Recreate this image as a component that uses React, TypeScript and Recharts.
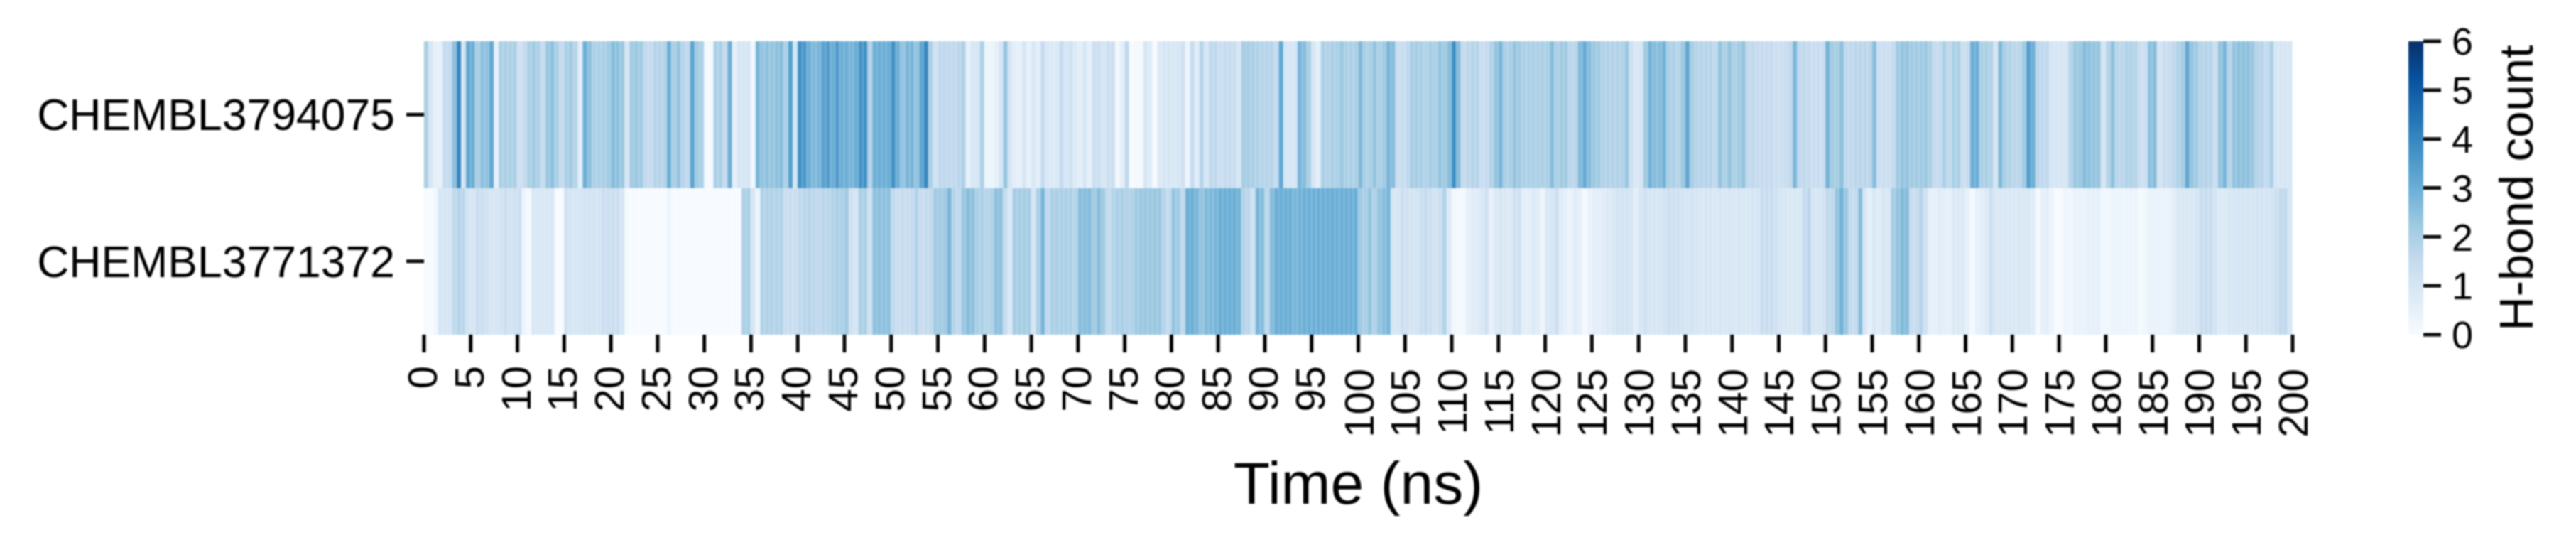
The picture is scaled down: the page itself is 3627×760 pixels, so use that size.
import { BarChart, Bar, Cell, XAxis, YAxis, Label } from "recharts";

const FONT = "'Liberation Sans', Arial, sans-serif";

const moleculeLabels = ["CHEMBL3771372", "CHEMBL3794075"];
const timeTicks = [
  0, 5, 10, 15, 20, 25, 30, 35, 40, 45, 50, 55, 60, 65, 70, 75, 80, 85, 90, 95, 100,
  105, 110, 115, 120, 125, 130, 135, 140, 145, 150, 155, 160, 165, 170, 175, 180, 185, 190, 195, 200,
];
const countTicks = [0, 1, 2, 3, 4, 5, 6];

// H-bond count per 0.5 ns, one line per 10 ns
const upperCounts = [
  2, 1, .5, .5, 1.5, 1.5, 2.5, 4, 1, 3.2, 3, 2, 2.5, 2.5, 3.2, .5, 2, 2, 2, 2,
  1.2, 1.5, 2, 2.2, 2, 1.5, 2.3, 2.5, 2, 1.5, 2, 2.2, 1.8, .6, 3, 2.5, 2, 2, 2, 2.2,
  2.6, 2.5, 2.3, 1, 2.2, 2.3, 2.2, 1.6, 1.5, 1.8, 1.8, 1.8, 3, 2, 2.4, 1.8, 1.6, 3.3, 2.2, 2,
  .1, .1, 2, 2, 1.5, 3, .5, 1, 1, 1, .2, 2.8, 2.4, 2.5, 2.4, 2.5, 2.6, 2, 3.4, 1,
  3.8, 3.6, 3, 2.7, 2.8, 3.3, 3.5, 3, 3.5, 3, 3, 2.8, 3, 3.7, 3.8, 1.8, 3, 3, 3, 3,
  3.8, 3, 2.4, 2.8, 2.8, 2.4, 3.2, 4, 2, 1.2, 1.6, 1.6, 1.6, 1.6, 1.7, 2, .5, 1, 1, 2,
  .3, .3, .5, 1, 2.4, 1, .6, .5, 1, .5, .9, .6, 1.5, .9, .8, .8, 1.5, 1, 1.2, .8,
  .6, 1, .5, 1.3, 1.3, 1, 1.3, 1.3, .2, .6, 1.6, 0, .1, .1, 1, .7, 0, .8, 1, 1,
  .9, 1, 1.2, .3, 1.5, .7, 1.8, 1, 1.6, 1.6, 1.3, 1.5, 1.5, 1.4, 1, 2.1, 2.1, 2, 1.9, 1.8,
  1.8, 1.8, 1.5, 3.2, 1, 1, 1, 2.8, 2.6, 2, 1, .6, 2, 1.9, 2, 2, 2.3, 2, 2, 2,
  2.7, 2, 2, 2.4, 2, 2.2, 2.8, 2.6, 1.4, 1.4, 1.6, 2.1, 2.1, 2, 1.9, 2.1, 2, 2.4, 2.2, 2.6,
  3.8, 2.6, 1.5, 1.7, 1.8, 1.8, 1.4, 1.5, 1.9, 2.4, 2.8, 2, 2, 2.4, 2.2, 2, 2, 2, 2, 2,
  2, 2.6, 2, 2.2, 2.2, 1.7, 1.7, 2.7, 3.1, 2.6, 2.3, 2.2, 1.9, 1.9, 1.9, 1.9, 1.9, 2.3, 1.2, .9,
  1, 2.2, 2.9, 2.6, 2.6, 2.9, 2, 2, 1.8, 2.3, 3.2, 2.1, 1.8, 1.8, 1.8, 1.8, 1.6, 2.4, 2, 2.4,
  2, 2.2, 2.4, 1.6, 1.6, 1.5, 1.5, 1.5, 1.5, 1.3, 1.3, 1.4, 1.6, 2.8, 1.6, 1.6, 1.5, 1.4, 1.4, 1.4,
  2.9, 2.2, 2.1, 2.5, 1.6, 1.6, 1.7, 1.7, 1.7, 1.7, 2.6, 1.3, 1.3, 1.3, 1.5, 2.2, 2.4, 2.4, 2.2, 2.2,
  2.2, 2.3, 2, 1.5, 1.5, 2, 1.6, 2, 2, 1.3, 1.5, 3, 3, 2, 2, 1.9, 1, 2.7, 2, 1.9,
  1.7, 1.7, 2.2, 3.4, 3, 1.7, 1.6, 1.6, 1, 1, 1, 1, 1.8, 2.3, 2.3, 2.6, 2.5, 2.4, 2.4, 1,
  1.8, 2.5, 1.7, 1.7, 1.9, 1.9, 1.8, 1.3, 1.3, 2.5, 2.6, 1.1, 1.4, 1.4, 1.6, 1.9, 2.1, 3.2, 2.4, 2.2,
  1.8, 1.8, 1.8, 1.3, 2.4, 2.8, 1.8, 2.4, 2.5, 2.5, 2.5, 2.3, 1.8, 1.8, 1.5, 2, 1, 1, 1, 1,
];

const lowerCounts = [
  0, 0, .2, 1, 1, 1, 1.6, 1.8, 1.7, 1.1, 1, 1.4, 1.3, 1.2, 1, 1, 1.1, 1.3, 1.1, 1.2,
  1.3, .3, .1, .9, .9, .9, .9, .9, 0, 0, 1.2, 1, 1, 1, 1.1, 1.1, 1.1, 1.1, 1.3, 1.3,
  1.3, 1.3, 1, .1, 0, 0, 0, 0, 0, 0, 0, 0, .3, 0, 0, 0, 0, 0, 0, 0,
  0, 0, 0, 0, 0, 0, 0, 0, 2, 2, 1, .3, 1.9, 1.9, 1.9, 1.9, 1.9, 1.4, 1.4, 1.4,
  1.6, 1.7, 1.8, 1.7, 1.6, 1.7, 1.7, 1.9, 2, 2, 2.2, 1.2, 1, 2, 2, 1.2, 2.5, 2.5, 2.5, 2.5,
  1.6, 1.4, 1.5, 1.4, 1.5, 1.9, 1.4, 1.5, 1.6, 2.2, 2.2, 2.2, 2.8, 1.8, 1.6, 2.3, 2.6, 2.5, 2, 2,
  1.8, 1.9, 2.5, 2.5, 1.5, .9, 2.1, 2.1, 2.1, 2.1, 1, 2, 2.8, 1.6, 2, 2, 2, 2, 2, 1.8,
  2.6, 2.6, 2.6, 2.2, 2.6, 2.2, 1.5, 1.8, 2, 2, 1.9, 1.9, 2.2, 2.3, 2.3, 2.3, 2.3, 2.3, 1.8, 1.5,
  2.4, 2.2, 1.6, 3, 3, 2.8, 2.4, 2.7, 2.7, 2.8, 3, 3, 3, 3, 2.9, 1.8, 1.7, 1.2, 2.8, 2.6,
  1.6, 2.6, 3, 3, 3, 3, 2.8, 2.9, 3, 3, 3, 3, 3, 3, 3, 3, 3, 3, 3, 3,
  2.2, 2, 2.4, 1.9, 2.4, 2.6, 2.8, 1, 1, 1.3, 1.2, 1.1, 1.1, 1.3, 1.5, 1.3, 1.1, 1.3, 1.9, .8,
  .2, .1, .1, .5, .7, .7, .9, 1.2, .5, .8, 1, .9, .8, 1.2, 1.2, .6, .6, .8, .7, .3,
  .9, 1, 1.3, .7, .5, .4, .7, .5, .1, .4, .6, .6, .7, .8, .9, 1.1, 1.1, 1.1, 1, .6,
  1, 1.2, 1, 1, 1, 1.1, 1.3, 1.2, 1.2, 1.1, 1, 1.1, 1, .9, 1, 1, .9, 1, .9, 1,
  .9, 1, .9, .9, 1, 1, 1.4, 1.4, 1.4, 1.2, 1, .9, .9, .9, .9, 1.5, 1.7, 1, 1, 1.1,
  1.6, 1.6, 2.4, 2.9, 2.3, 1.5, 1.5, 2.6, 1, .5, .9, .7, 1, .9, 2.1, 2.4, 2.7, 2.6, 1.4, 1.4,
  1.8, 1.2, .5, .5, .7, .6, .5, .8, .8, .8, .5, .1, .5, .6, .8, 1.3, .9, .9, .9, .9,
  .9, .9, .9, .9, .7, .1, .5, .6, .3, 0, 0, .3, .2, .4, .4, .4, .5, .5, .5, .2,
  .2, .3, .3, .3, .3, .3, .3, .1, .2, .4, .4, .4, .4, .4, .6, .9, .9, .9, .9, 1,
  1.4, 1.4, 1.4, 1.1, .8, .8, 1, 1, 1, 1, 1, 1, 1.1, 1.1, 1.1, 1.1, 1.3, 1.6, 1.6, 1,
];

// matplotlib Blues
const BLUES = ["#f7fbff", "#deebf7", "#c6dbef", "#9ecae1", "#6baed6", "#4292c6", "#2171b5", "#08519c", "#08306b"];

function hexToRgb(hex: string) {
  return [1, 3, 5].map((i) => parseInt(hex.slice(i, i + 2), 16));
}

function blues(count: number) {
  const pos = Math.min(Math.max(count / 6, 0), 1) * (BLUES.length - 1);
  const i = Math.min(Math.floor(pos), BLUES.length - 2);
  const a = hexToRgb(BLUES[i]);
  const b = hexToRgb(BLUES[i + 1]);
  const c = a.map((v, k) => Math.round(v + (b[k] - v) * (pos - i)));
  return `rgb(${c[0]},${c[1]},${c[2]})`;
}

const rows = upperCounts.map((upper, i) => ({
  time: i * 0.5 + 0.25,
  upper,
  lower: lowerCounts[i],
  row: 1,
}));

function TimeTick({ x, y, payload }: any) {
  const wide = payload.value >= 100;
  return (
    <text
      transform={`translate(${x + (wide ? 21 : 18)},${y + (wide ? 21 : 17)}) rotate(-90)`}
      textAnchor="end"
      fontSize={58}
      fontFamily={FONT}
      fill="#000"
    >
      {payload.value}
    </text>
  );
}

export default function App() {
  return (
    // the reference is a soft, upscaled raster
    <div style={{ position: "absolute", left: 0, top: 0, width: 3627, height: 760, background: "#fff", filter: "blur(1px)" }}>
      <div style={{ position: "absolute", left: 0, top: 0 }}>
        <BarChart
          width={3627}
          height={760}
          data={rows}
          margin={{ top: 58, right: 399, bottom: 0, left: 0 }}
          barGap={0}
        >
          <XAxis
            dataKey="time"
            type="number"
            domain={[0, 200]}
            ticks={timeTicks}
            interval={0}
            height={289}
            axisLine={false}
            tickSize={25}
            tickLine={{ stroke: "#000", strokeWidth: 5 }}
            tick={<TimeTick />}
          >
            <Label
              value="Time (ns)"
              position="insideBottom"
              offset={51}
              style={{ fontSize: 84, fontFamily: FONT, fill: "#000" }}
            />
          </XAxis>
          <YAxis
            type="number"
            domain={[0, 2]}
            ticks={[0.5, 1.5]}
            interval={0}
            width={597}
            axisLine={false}
            tickSize={25}
            tickMargin={16}
            tickLine={{ stroke: "#000", strokeWidth: 5 }}
            tickFormatter={(v: number) => moleculeLabels[v < 1 ? 0 : 1]}
            tick={{ fontSize: 62.5, fontFamily: FONT, fill: "#000" }}
          />
          <Bar dataKey="row" stackId="rows" barSize={6.6} isAnimationActive={false}>
            {lowerCounts.map((v, i) => (
              <Cell key={i} fill={blues(v)} stroke={blues(v)} strokeWidth={0.4} />
            ))}
          </Bar>
          <Bar dataKey="row" stackId="rows" barSize={6.6} isAnimationActive={false}>
            {upperCounts.map((v, i) => (
              <Cell key={i} fill={blues(v)} stroke={blues(v)} strokeWidth={0.4} />
            ))}
          </Bar>
        </BarChart>
      </div>
      <div style={{ position: "absolute", left: 3391, top: 0 }}>
        <BarChart
          width={236}
          height={760}
          data={[{ name: "scale", top: 6 }]}
          margin={{ top: 58, right: 0, bottom: 289, left: 0 }}
          barCategoryGap={0}
        >
          <defs>
            <linearGradient id="bluesBar" x1="0" y1="1" x2="0" y2="0">
              {BLUES.map((c, i) => (
                <stop key={c} offset={i / (BLUES.length - 1)} stopColor={c} />
              ))}
            </linearGradient>
          </defs>
          <XAxis dataKey="name" hide />
          <YAxis
            orientation="right"
            type="number"
            domain={[0, 6]}
            ticks={countTicks}
            interval={0}
            width={215}
            axisLine={false}
            tickSize={25}
            tickMargin={15}
            tickLine={{ stroke: "#000", strokeWidth: 5 }}
            tick={{ fontSize: 54, fontFamily: FONT, fill: "#000" }}
          >
            <Label
              value="H-bond count"
              angle={-90}
              position="insideRight"
              offset={85}
              style={{ fontSize: 67, fontFamily: FONT, fill: "#000", textAnchor: "middle" }}
            />
          </YAxis>
          <Bar dataKey="top" fill="url(#bluesBar)" isAnimationActive={false} />
        </BarChart>
      </div>
    </div>
  );
}
